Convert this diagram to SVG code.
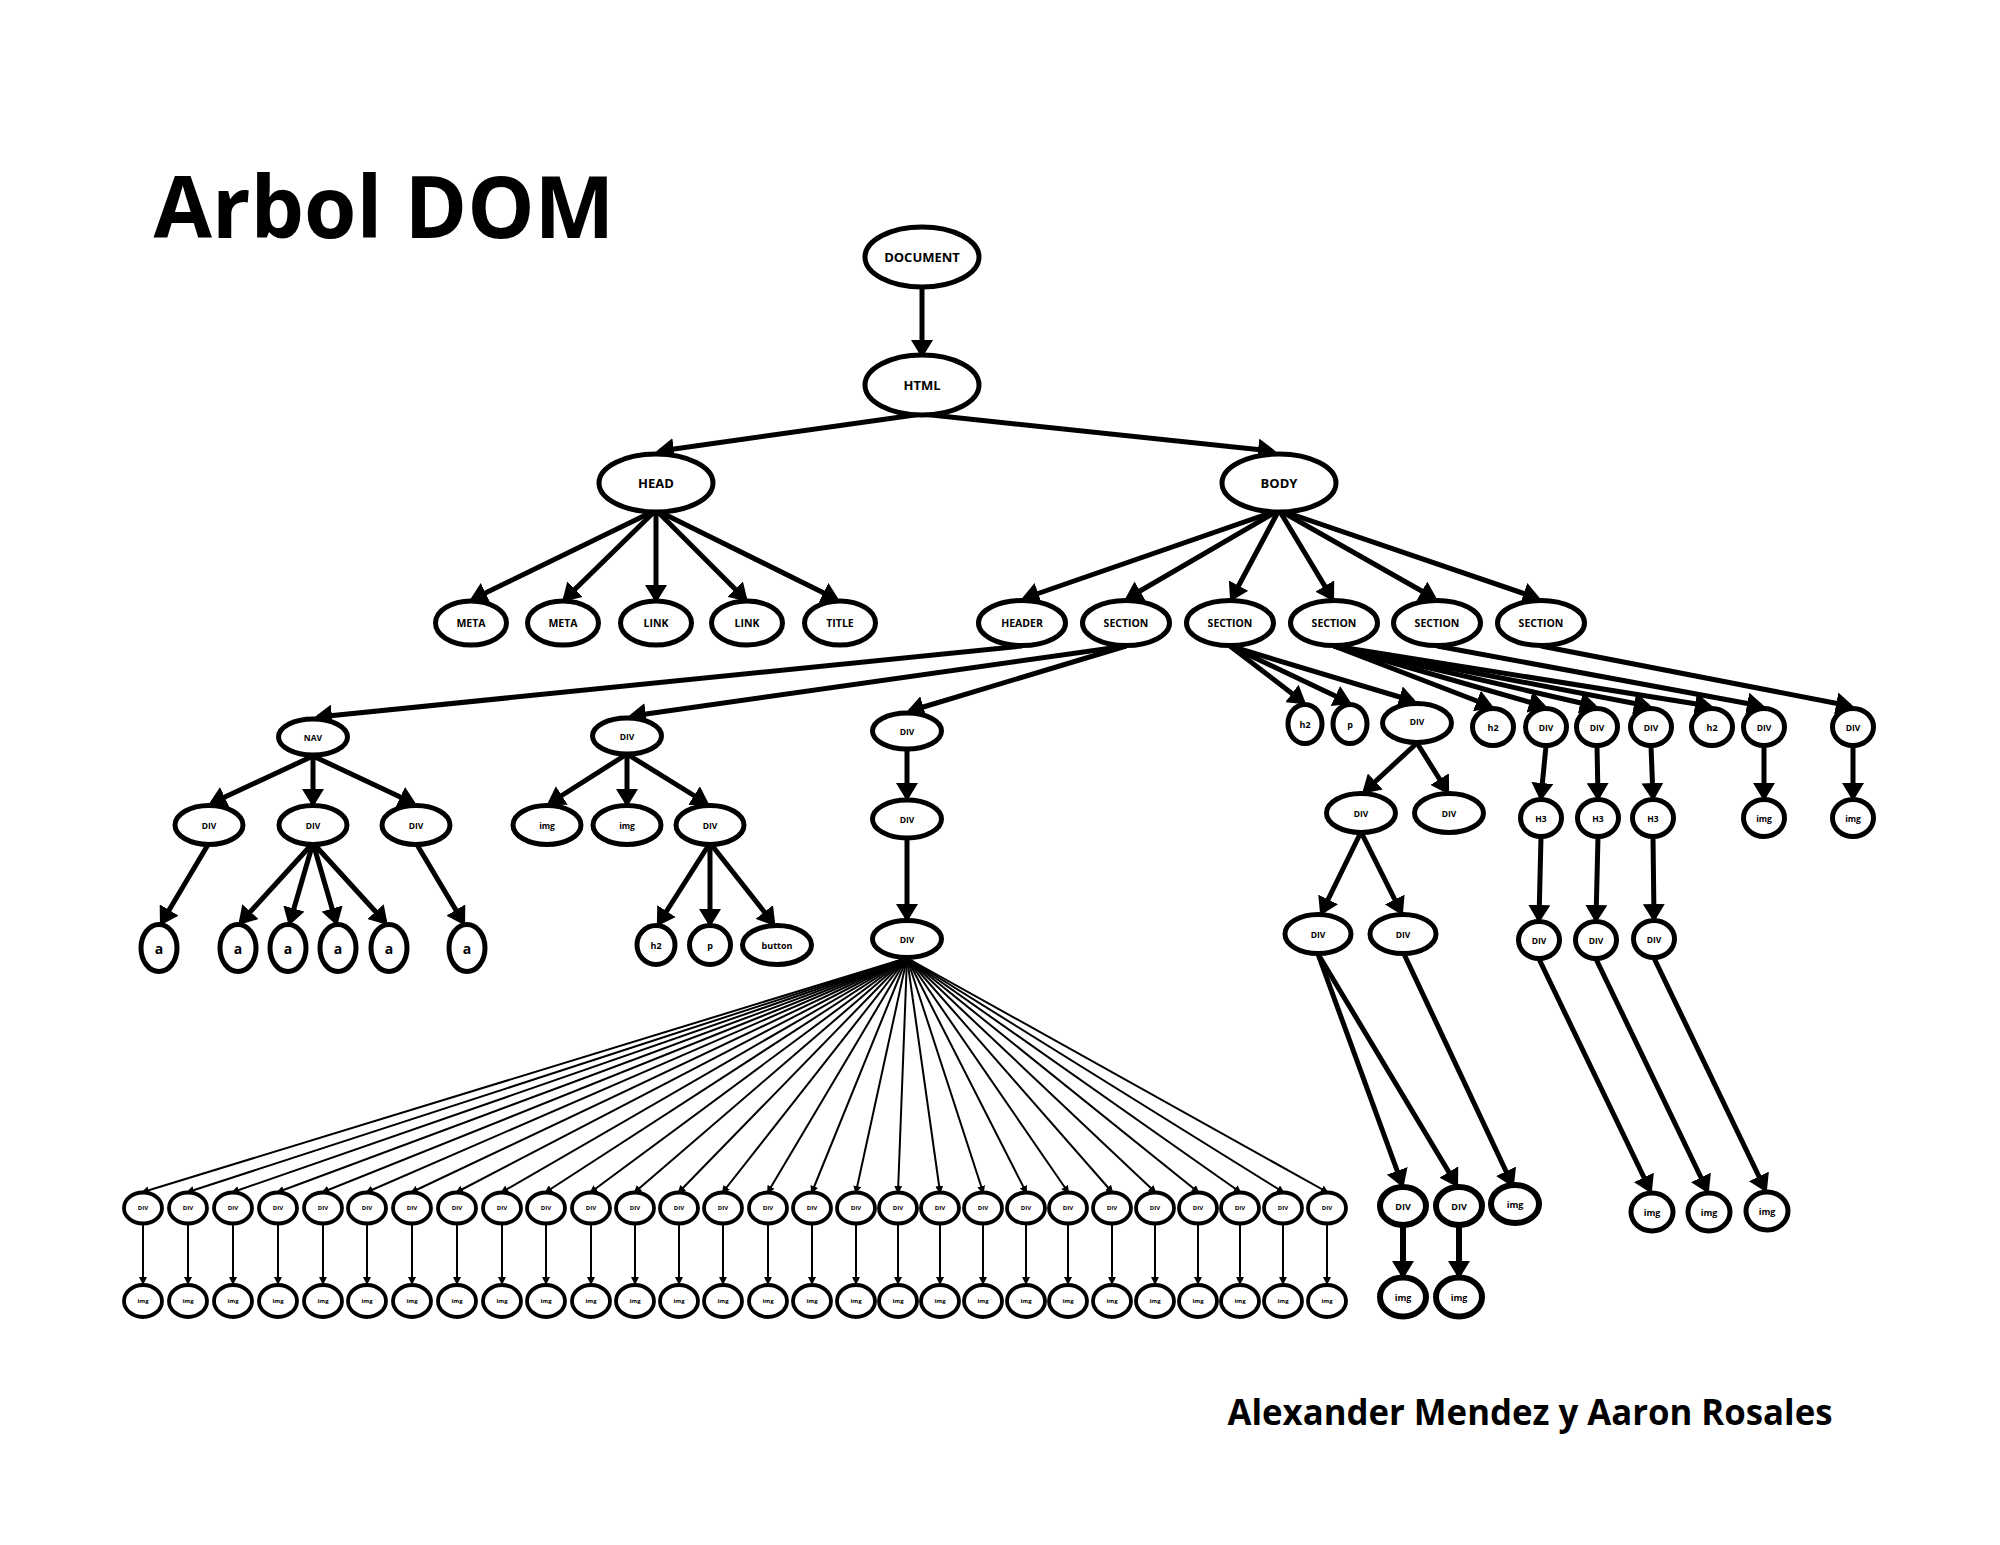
<svg xmlns="http://www.w3.org/2000/svg" width="2000" height="1545" viewBox="0 0 2000 1545">
<defs>
<style>
.n ellipse{fill:#fff;stroke:#000;stroke-width:5}
.s ellipse{fill:#fff;stroke:#000;stroke-width:3.8}
.w ellipse{fill:#fff;stroke:#000;stroke-width:6}
text{font-family:"Open Sans","DejaVu Sans",sans-serif;font-weight:700;text-anchor:middle;dominant-baseline:central;fill:#000}
.t13{font-size:13px}.t10{font-size:10.5px}.t9{font-size:9px}.t8{font-size:8.5px}.t6{font-size:6px}.ta{font-size:14px}
#connectors path{fill:none;stroke:#000}
.e{stroke-width:5;marker-end:url(#ah)}
.ew{stroke-width:6;marker-end:url(#ah)}
.f{stroke-width:2;marker-end:url(#as)}
</style>
<marker id="ah" markerUnits="userSpaceOnUse" markerWidth="18" markerHeight="22" viewBox="0 0 18 22" refX="14" refY="11" orient="auto"><path d="M0,0L18,11L0,22z" fill="#000"/></marker>
<marker id="as" markerUnits="userSpaceOnUse" markerWidth="8" markerHeight="8" viewBox="0 0 8 8" refX="6" refY="4" orient="auto"><path d="M0,0L8,4L0,8z" fill="#000"/></marker>
</defs>
<rect width="2000" height="1545" fill="#fff"/>
<text x="384" y="238" style="font-size:86px;dominant-baseline:alphabetic" textLength="461" lengthAdjust="spacingAndGlyphs">Arbol DOM</text>
<text x="1530" y="1425" style="font-size:36px;dominant-baseline:alphabetic" textLength="605" lengthAdjust="spacingAndGlyphs">Alexander Mendez y Aaron Rosales</text>
<g id="connectors">
<path class="e" d="M922 286V354"/>
<path class="e" d="M922 414L660 451"/>
<path class="e" d="M922 414L1272 451"/>
<path class="e" d="M656 510L473 599"/>
<path class="e" d="M656 510L565 599"/>
<path class="e" d="M656 510L656 599"/>
<path class="e" d="M656 510L745 599"/>
<path class="e" d="M656 510L836 599"/>
<path class="e" d="M1279 510L1025 598"/>
<path class="e" d="M1279 510L1128 598"/>
<path class="e" d="M1279 510L1232 598"/>
<path class="e" d="M1279 510L1332 598"/>
<path class="e" d="M1279 510L1434 598"/>
<path class="e" d="M1279 510L1537 598"/>
<path class="e" d="M1022 646L318 717"/>
<path class="e" d="M1126 646L632 716"/>
<path class="e" d="M1126 646L910 711"/>
<path class="e" d="M313 756L212 803"/>
<path class="e" d="M313 756L313 803"/>
<path class="e" d="M313 756L413 803"/>
<path class="e" d="M209 843L162 922"/>
<path class="e" d="M313 843L241 922"/>
<path class="e" d="M313 843L290 922"/>
<path class="e" d="M313 843L336 922"/>
<path class="e" d="M313 843L385 922"/>
<path class="e" d="M416 843L463 922"/>
<path class="e" d="M627 754L550 803"/>
<path class="e" d="M627 754L627 803"/>
<path class="e" d="M627 754L706 803"/>
<path class="e" d="M710 843L659 923"/>
<path class="e" d="M710 843L710 923"/>
<path class="e" d="M710 843L773 923"/>
<path class="e" d="M907 750V797"/>
<path class="e" d="M907 838V918"/>
<path class="e" d="M1230 646L1303 702"/>
<path class="e" d="M1230 646L1348 702"/>
<path class="e" d="M1230 646L1413 701"/>
<path class="e" d="M1334 646L1490 706"/>
<path class="e" d="M1334 646L1543 706"/>
<path class="e" d="M1334 646L1594 706"/>
<path class="e" d="M1334 646L1648 706"/>
<path class="e" d="M1334 646L1709 706"/>
<path class="e" d="M1437 646L1761 706"/>
<path class="e" d="M1541 646L1850 706"/>
<path class="e" d="M1417 743L1365 791"/>
<path class="e" d="M1417 743L1447 791"/>
<path class="e" d="M1546 746L1541 797"/>
<path class="e" d="M1597 746L1598 797"/>
<path class="e" d="M1651 746L1653 797"/>
<path class="e" d="M1764 746V797"/>
<path class="e" d="M1853 746V797"/>
<path class="e" d="M1361 832L1322 912"/>
<path class="e" d="M1361 832L1401 912"/>
<path class="e" d="M1541 837L1539 919"/>
<path class="e" d="M1598 837L1596 919"/>
<path class="e" d="M1653 837L1654 918"/>
<path class="e" d="M1318 954L1402 1184"/>
<path class="e" d="M1318 954L1456 1184"/>
<path class="e" d="M1404 954L1512 1184"/>
<path class="e" d="M1539 959L1650 1190"/>
<path class="e" d="M1596 959L1707 1190"/>
<path class="e" d="M1654 958L1765 1189"/>
<path class="ew" d="M1403 1225V1275"/>
<path class="ew" d="M1459 1225V1275"/>
<path class="f" d="M907 958L143 1192"/>
<path class="f" d="M907 958L188 1192"/>
<path class="f" d="M907 958L233 1192"/>
<path class="f" d="M907 958L278 1192"/>
<path class="f" d="M907 958L323 1192"/>
<path class="f" d="M907 958L367 1192"/>
<path class="f" d="M907 958L412 1192"/>
<path class="f" d="M907 958L457 1192"/>
<path class="f" d="M907 958L502 1192"/>
<path class="f" d="M907 958L546 1192"/>
<path class="f" d="M907 958L591 1192"/>
<path class="f" d="M907 958L635 1192"/>
<path class="f" d="M907 958L679 1192"/>
<path class="f" d="M907 958L723 1192"/>
<path class="f" d="M907 958L768 1192"/>
<path class="f" d="M907 958L812 1192"/>
<path class="f" d="M907 958L856 1192"/>
<path class="f" d="M907 958L898 1192"/>
<path class="f" d="M907 958L940 1192"/>
<path class="f" d="M907 958L983 1192"/>
<path class="f" d="M907 958L1026 1192"/>
<path class="f" d="M907 958L1068 1192"/>
<path class="f" d="M907 958L1112 1192"/>
<path class="f" d="M907 958L1155 1192"/>
<path class="f" d="M907 958L1198 1192"/>
<path class="f" d="M907 958L1240 1192"/>
<path class="f" d="M907 958L1283 1192"/>
<path class="f" d="M907 958L1327 1192"/>
<path class="f" d="M143 1225V1283"/>
<path class="f" d="M188 1225V1283"/>
<path class="f" d="M233 1225V1283"/>
<path class="f" d="M278 1225V1283"/>
<path class="f" d="M323 1225V1283"/>
<path class="f" d="M367 1225V1283"/>
<path class="f" d="M412 1225V1283"/>
<path class="f" d="M457 1225V1283"/>
<path class="f" d="M502 1225V1283"/>
<path class="f" d="M546 1225V1283"/>
<path class="f" d="M591 1225V1283"/>
<path class="f" d="M635 1225V1283"/>
<path class="f" d="M679 1225V1283"/>
<path class="f" d="M723 1225V1283"/>
<path class="f" d="M768 1225V1283"/>
<path class="f" d="M812 1225V1283"/>
<path class="f" d="M856 1225V1283"/>
<path class="f" d="M898 1225V1283"/>
<path class="f" d="M940 1225V1283"/>
<path class="f" d="M983 1225V1283"/>
<path class="f" d="M1026 1225V1283"/>
<path class="f" d="M1068 1225V1283"/>
<path class="f" d="M1112 1225V1283"/>
<path class="f" d="M1155 1225V1283"/>
<path class="f" d="M1198 1225V1283"/>
<path class="f" d="M1240 1225V1283"/>
<path class="f" d="M1283 1225V1283"/>
<path class="f" d="M1327 1225V1283"/>
</g>
<g id="n-document" class="n"><ellipse cx="922" cy="257" rx="57" ry="30"/><text class="t13" x="922" y="257">DOCUMENT</text></g>
<g id="n-html" class="n"><ellipse cx="922" cy="385" rx="57" ry="30"/><text class="t13" x="922" y="385">HTML</text></g>
<g id="n-head" class="n"><ellipse cx="656" cy="483" rx="57" ry="29"/><text class="t13" x="656" y="483">HEAD</text></g>
<g id="n-body" class="n"><ellipse cx="1279" cy="483" rx="57" ry="29"/><text class="t13" x="1279" y="483">BODY</text></g>
<g id="n-meta1" class="n"><ellipse cx="471" cy="623" rx="35.5" ry="22"/><text class="t10" x="471" y="623">META</text></g>
<g id="n-meta2" class="n"><ellipse cx="563" cy="623" rx="35.5" ry="22"/><text class="t10" x="563" y="623">META</text></g>
<g id="n-link1" class="n"><ellipse cx="656" cy="623" rx="35.5" ry="22"/><text class="t10" x="656" y="623">LINK</text></g>
<g id="n-link2" class="n"><ellipse cx="747" cy="623" rx="35.5" ry="22"/><text class="t10" x="747" y="623">LINK</text></g>
<g id="n-title" class="n"><ellipse cx="840" cy="623" rx="35.5" ry="22"/><text class="t10" x="840" y="623">TITLE</text></g>
<g id="n-header" class="n"><ellipse cx="1022" cy="623" rx="43.5" ry="22.5"/><text class="t10" x="1022" y="623">HEADER</text></g>
<g id="n-section1" class="n"><ellipse cx="1126" cy="623" rx="43.5" ry="22.5"/><text class="t10" x="1126" y="623">SECTION</text></g>
<g id="n-section2" class="n"><ellipse cx="1230" cy="623" rx="43.5" ry="22.5"/><text class="t10" x="1230" y="623">SECTION</text></g>
<g id="n-section3" class="n"><ellipse cx="1334" cy="623" rx="43.5" ry="22.5"/><text class="t10" x="1334" y="623">SECTION</text></g>
<g id="n-section4" class="n"><ellipse cx="1437" cy="623" rx="43.5" ry="22.5"/><text class="t10" x="1437" y="623">SECTION</text></g>
<g id="n-section5" class="n"><ellipse cx="1541" cy="623" rx="43.5" ry="22.5"/><text class="t10" x="1541" y="623">SECTION</text></g>
<g id="n-nav" class="n"><ellipse cx="313" cy="737" rx="34.5" ry="18"/><text class="t8" x="313" y="737">NAV</text></g>
<g id="n-divA" class="n"><ellipse cx="627" cy="736" rx="34.5" ry="18"/><text class="t8" x="627" y="736">DIV</text></g>
<g id="n-divB" class="n"><ellipse cx="907" cy="731" rx="34.5" ry="18"/><text class="t8" x="907" y="731">DIV</text></g>
<g id="n-navdiv1" class="n"><ellipse cx="209" cy="825" rx="34" ry="19.5"/><text class="t8" x="209" y="825">DIV</text></g>
<g id="n-navdiv2" class="n"><ellipse cx="313" cy="825" rx="34" ry="19.5"/><text class="t8" x="313" y="825">DIV</text></g>
<g id="n-navdiv3" class="n"><ellipse cx="416" cy="825" rx="34" ry="19.5"/><text class="t8" x="416" y="825">DIV</text></g>
<g id="n-imgA1" class="n"><ellipse cx="547" cy="825" rx="34" ry="19.5"/><text class="t8" x="547" y="825">img</text></g>
<g id="n-imgA2" class="n"><ellipse cx="627" cy="825" rx="34" ry="19.5"/><text class="t8" x="627" y="825">img</text></g>
<g id="n-divA3" class="n"><ellipse cx="710" cy="825" rx="34" ry="19.5"/><text class="t8" x="710" y="825">DIV</text></g>
<g id="n-divB2" class="n"><ellipse cx="907" cy="819" rx="34.5" ry="19"/><text class="t8" x="907" y="819">DIV</text></g>
<g id="n-a1" class="n"><ellipse cx="159" cy="948" rx="18" ry="23.5"/><text class="ta" x="159" y="948">a</text></g>
<g id="n-a2" class="n"><ellipse cx="238" cy="948" rx="18" ry="23.5"/><text class="ta" x="238" y="948">a</text></g>
<g id="n-a3" class="n"><ellipse cx="288" cy="948" rx="18" ry="23.5"/><text class="ta" x="288" y="948">a</text></g>
<g id="n-a4" class="n"><ellipse cx="338" cy="948" rx="18" ry="23.5"/><text class="ta" x="338" y="948">a</text></g>
<g id="n-a5" class="n"><ellipse cx="389" cy="948" rx="18" ry="23.5"/><text class="ta" x="389" y="948">a</text></g>
<g id="n-a6" class="n"><ellipse cx="467" cy="948" rx="18" ry="23.5"/><text class="ta" x="467" y="948">a</text></g>
<g id="n-h2A" class="n"><ellipse cx="656" cy="945" rx="19" ry="19.5"/><text class="t9" x="656" y="945">h2</text></g>
<g id="n-pA" class="n"><ellipse cx="710" cy="945" rx="20.5" ry="19.5"/><text class="t9" x="710" y="945">p</text></g>
<g id="n-button" class="n"><ellipse cx="777" cy="945" rx="34.5" ry="19.5"/><text class="t9" x="777" y="945">button</text></g>
<g id="n-divB3" class="n"><ellipse cx="907" cy="939" rx="34.5" ry="18.5"/><text class="t8" x="907" y="939">DIV</text></g>
<g id="n-h2a" class="n"><ellipse cx="1305" cy="724" rx="17" ry="19.5"/><text class="t9" x="1305" y="724">h2</text></g>
<g id="n-pa" class="n"><ellipse cx="1350" cy="724" rx="17" ry="19.5"/><text class="t9" x="1350" y="724">p</text></g>
<g id="n-divC" class="n"><ellipse cx="1417" cy="723" rx="34.5" ry="19.5"/><text class="t8" x="1417" y="721">DIV</text></g>
<g id="n-h2b" class="n"><ellipse cx="1493" cy="727" rx="20.5" ry="18.5"/><text class="t9" x="1493" y="727">h2</text></g>
<g id="n-divD1" class="n"><ellipse cx="1546" cy="727" rx="20.5" ry="18.5"/><text class="t8" x="1546" y="727">DIV</text></g>
<g id="n-divD2" class="n"><ellipse cx="1597" cy="727" rx="20.5" ry="18.5"/><text class="t8" x="1597" y="727">DIV</text></g>
<g id="n-divD3" class="n"><ellipse cx="1651" cy="727" rx="20.5" ry="18.5"/><text class="t8" x="1651" y="727">DIV</text></g>
<g id="n-h2c" class="n"><ellipse cx="1712" cy="727" rx="20.5" ry="18.5"/><text class="t9" x="1712" y="727">h2</text></g>
<g id="n-divE" class="n"><ellipse cx="1764" cy="727" rx="20.5" ry="18.5"/><text class="t8" x="1764" y="727">DIV</text></g>
<g id="n-divF" class="n"><ellipse cx="1853" cy="727" rx="20.5" ry="18.5"/><text class="t8" x="1853" y="727">DIV</text></g>
<g id="n-divC1" class="n"><ellipse cx="1361" cy="813" rx="34.5" ry="19.5"/><text class="t8" x="1361" y="813">DIV</text></g>
<g id="n-divC2" class="n"><ellipse cx="1449" cy="813" rx="34.5" ry="19.5"/><text class="t8" x="1449" y="813">DIV</text></g>
<g id="n-h3a" class="n"><ellipse cx="1541" cy="818" rx="20.5" ry="18.5"/><text class="t8" x="1541" y="818">H3</text></g>
<g id="n-h3b" class="n"><ellipse cx="1598" cy="818" rx="20.5" ry="18.5"/><text class="t8" x="1598" y="818">H3</text></g>
<g id="n-h3c" class="n"><ellipse cx="1653" cy="818" rx="20.5" ry="18.5"/><text class="t8" x="1653" y="818">H3</text></g>
<g id="n-imgE" class="n"><ellipse cx="1764" cy="818" rx="20.5" ry="18.5"/><text class="t8" x="1764" y="818">img</text></g>
<g id="n-imgF" class="n"><ellipse cx="1853" cy="818" rx="20.5" ry="18.5"/><text class="t8" x="1853" y="818">img</text></g>
<g id="n-divC11" class="n"><ellipse cx="1318" cy="934" rx="33" ry="19.5"/><text class="t8" x="1318" y="934">DIV</text></g>
<g id="n-divC12" class="n"><ellipse cx="1403" cy="934" rx="33" ry="19.5"/><text class="t8" x="1403" y="934">DIV</text></g>
<g id="n-divH1" class="n"><ellipse cx="1539" cy="940" rx="20.5" ry="18.5"/><text class="t8" x="1539" y="940">DIV</text></g>
<g id="n-divH2" class="n"><ellipse cx="1596" cy="940" rx="20.5" ry="18.5"/><text class="t8" x="1596" y="940">DIV</text></g>
<g id="n-divH3" class="n"><ellipse cx="1654" cy="939" rx="20.5" ry="18.5"/><text class="t8" x="1654" y="939">DIV</text></g>
<g id="n-dd1" class="w"><ellipse cx="1403" cy="1206" rx="23" ry="19"/><text class="t9" x="1403" y="1206">DIV</text></g>
<g id="n-dd2" class="w"><ellipse cx="1459" cy="1206" rx="23" ry="19"/><text class="t9" x="1459" y="1206">DIV</text></g>
<g id="n-imgG" class="w"><ellipse cx="1515" cy="1204" rx="24" ry="19"/><text class="t9" x="1515" y="1204">img</text></g>
<g id="n-ddimg1" class="w"><ellipse cx="1403" cy="1297" rx="23" ry="19.5"/><text class="t9" x="1403" y="1297">img</text></g>
<g id="n-ddimg2" class="w"><ellipse cx="1459" cy="1297" rx="23" ry="19.5"/><text class="t9" x="1459" y="1297">img</text></g>
<g id="n-imgH1" class="n"><ellipse cx="1652" cy="1212" rx="21" ry="19"/><text class="t9" x="1652" y="1212">img</text></g>
<g id="n-imgH2" class="n"><ellipse cx="1709" cy="1212" rx="21" ry="19"/><text class="t9" x="1709" y="1212">img</text></g>
<g id="n-imgH3" class="n"><ellipse cx="1767" cy="1211" rx="21" ry="19"/><text class="t9" x="1767" y="1211">img</text></g>
<g id="row-div-1" class="s"><ellipse cx="143" cy="1208" rx="19" ry="15.5"/><text class="t6" x="143" y="1208">DIV</text></g>
<g id="row-div-2" class="s"><ellipse cx="188" cy="1208" rx="19" ry="15.5"/><text class="t6" x="188" y="1208">DIV</text></g>
<g id="row-div-3" class="s"><ellipse cx="233" cy="1208" rx="19" ry="15.5"/><text class="t6" x="233" y="1208">DIV</text></g>
<g id="row-div-4" class="s"><ellipse cx="278" cy="1208" rx="19" ry="15.5"/><text class="t6" x="278" y="1208">DIV</text></g>
<g id="row-div-5" class="s"><ellipse cx="323" cy="1208" rx="19" ry="15.5"/><text class="t6" x="323" y="1208">DIV</text></g>
<g id="row-div-6" class="s"><ellipse cx="367" cy="1208" rx="19" ry="15.5"/><text class="t6" x="367" y="1208">DIV</text></g>
<g id="row-div-7" class="s"><ellipse cx="412" cy="1208" rx="19" ry="15.5"/><text class="t6" x="412" y="1208">DIV</text></g>
<g id="row-div-8" class="s"><ellipse cx="457" cy="1208" rx="19" ry="15.5"/><text class="t6" x="457" y="1208">DIV</text></g>
<g id="row-div-9" class="s"><ellipse cx="502" cy="1208" rx="19" ry="15.5"/><text class="t6" x="502" y="1208">DIV</text></g>
<g id="row-div-10" class="s"><ellipse cx="546" cy="1208" rx="19" ry="15.5"/><text class="t6" x="546" y="1208">DIV</text></g>
<g id="row-div-11" class="s"><ellipse cx="591" cy="1208" rx="19" ry="15.5"/><text class="t6" x="591" y="1208">DIV</text></g>
<g id="row-div-12" class="s"><ellipse cx="635" cy="1208" rx="19" ry="15.5"/><text class="t6" x="635" y="1208">DIV</text></g>
<g id="row-div-13" class="s"><ellipse cx="679" cy="1208" rx="19" ry="15.5"/><text class="t6" x="679" y="1208">DIV</text></g>
<g id="row-div-14" class="s"><ellipse cx="723" cy="1208" rx="19" ry="15.5"/><text class="t6" x="723" y="1208">DIV</text></g>
<g id="row-div-15" class="s"><ellipse cx="768" cy="1208" rx="19" ry="15.5"/><text class="t6" x="768" y="1208">DIV</text></g>
<g id="row-div-16" class="s"><ellipse cx="812" cy="1208" rx="19" ry="15.5"/><text class="t6" x="812" y="1208">DIV</text></g>
<g id="row-div-17" class="s"><ellipse cx="856" cy="1208" rx="19" ry="15.5"/><text class="t6" x="856" y="1208">DIV</text></g>
<g id="row-div-18" class="s"><ellipse cx="898" cy="1208" rx="19" ry="15.5"/><text class="t6" x="898" y="1208">DIV</text></g>
<g id="row-div-19" class="s"><ellipse cx="940" cy="1208" rx="19" ry="15.5"/><text class="t6" x="940" y="1208">DIV</text></g>
<g id="row-div-20" class="s"><ellipse cx="983" cy="1208" rx="19" ry="15.5"/><text class="t6" x="983" y="1208">DIV</text></g>
<g id="row-div-21" class="s"><ellipse cx="1026" cy="1208" rx="19" ry="15.5"/><text class="t6" x="1026" y="1208">DIV</text></g>
<g id="row-div-22" class="s"><ellipse cx="1068" cy="1208" rx="19" ry="15.5"/><text class="t6" x="1068" y="1208">DIV</text></g>
<g id="row-div-23" class="s"><ellipse cx="1112" cy="1208" rx="19" ry="15.5"/><text class="t6" x="1112" y="1208">DIV</text></g>
<g id="row-div-24" class="s"><ellipse cx="1155" cy="1208" rx="19" ry="15.5"/><text class="t6" x="1155" y="1208">DIV</text></g>
<g id="row-div-25" class="s"><ellipse cx="1198" cy="1208" rx="19" ry="15.5"/><text class="t6" x="1198" y="1208">DIV</text></g>
<g id="row-div-26" class="s"><ellipse cx="1240" cy="1208" rx="19" ry="15.5"/><text class="t6" x="1240" y="1208">DIV</text></g>
<g id="row-div-27" class="s"><ellipse cx="1283" cy="1208" rx="19" ry="15.5"/><text class="t6" x="1283" y="1208">DIV</text></g>
<g id="row-div-28" class="s"><ellipse cx="1327" cy="1208" rx="19" ry="15.5"/><text class="t6" x="1327" y="1208">DIV</text></g>
<g id="row-img-1" class="s"><ellipse cx="143" cy="1301" rx="19" ry="16"/><text class="t6" x="143" y="1301">img</text></g>
<g id="row-img-2" class="s"><ellipse cx="188" cy="1301" rx="19" ry="16"/><text class="t6" x="188" y="1301">img</text></g>
<g id="row-img-3" class="s"><ellipse cx="233" cy="1301" rx="19" ry="16"/><text class="t6" x="233" y="1301">img</text></g>
<g id="row-img-4" class="s"><ellipse cx="278" cy="1301" rx="19" ry="16"/><text class="t6" x="278" y="1301">img</text></g>
<g id="row-img-5" class="s"><ellipse cx="323" cy="1301" rx="19" ry="16"/><text class="t6" x="323" y="1301">img</text></g>
<g id="row-img-6" class="s"><ellipse cx="367" cy="1301" rx="19" ry="16"/><text class="t6" x="367" y="1301">img</text></g>
<g id="row-img-7" class="s"><ellipse cx="412" cy="1301" rx="19" ry="16"/><text class="t6" x="412" y="1301">img</text></g>
<g id="row-img-8" class="s"><ellipse cx="457" cy="1301" rx="19" ry="16"/><text class="t6" x="457" y="1301">img</text></g>
<g id="row-img-9" class="s"><ellipse cx="502" cy="1301" rx="19" ry="16"/><text class="t6" x="502" y="1301">img</text></g>
<g id="row-img-10" class="s"><ellipse cx="546" cy="1301" rx="19" ry="16"/><text class="t6" x="546" y="1301">img</text></g>
<g id="row-img-11" class="s"><ellipse cx="591" cy="1301" rx="19" ry="16"/><text class="t6" x="591" y="1301">img</text></g>
<g id="row-img-12" class="s"><ellipse cx="635" cy="1301" rx="19" ry="16"/><text class="t6" x="635" y="1301">img</text></g>
<g id="row-img-13" class="s"><ellipse cx="679" cy="1301" rx="19" ry="16"/><text class="t6" x="679" y="1301">img</text></g>
<g id="row-img-14" class="s"><ellipse cx="723" cy="1301" rx="19" ry="16"/><text class="t6" x="723" y="1301">img</text></g>
<g id="row-img-15" class="s"><ellipse cx="768" cy="1301" rx="19" ry="16"/><text class="t6" x="768" y="1301">img</text></g>
<g id="row-img-16" class="s"><ellipse cx="812" cy="1301" rx="19" ry="16"/><text class="t6" x="812" y="1301">img</text></g>
<g id="row-img-17" class="s"><ellipse cx="856" cy="1301" rx="19" ry="16"/><text class="t6" x="856" y="1301">img</text></g>
<g id="row-img-18" class="s"><ellipse cx="898" cy="1301" rx="19" ry="16"/><text class="t6" x="898" y="1301">img</text></g>
<g id="row-img-19" class="s"><ellipse cx="940" cy="1301" rx="19" ry="16"/><text class="t6" x="940" y="1301">img</text></g>
<g id="row-img-20" class="s"><ellipse cx="983" cy="1301" rx="19" ry="16"/><text class="t6" x="983" y="1301">img</text></g>
<g id="row-img-21" class="s"><ellipse cx="1026" cy="1301" rx="19" ry="16"/><text class="t6" x="1026" y="1301">img</text></g>
<g id="row-img-22" class="s"><ellipse cx="1068" cy="1301" rx="19" ry="16"/><text class="t6" x="1068" y="1301">img</text></g>
<g id="row-img-23" class="s"><ellipse cx="1112" cy="1301" rx="19" ry="16"/><text class="t6" x="1112" y="1301">img</text></g>
<g id="row-img-24" class="s"><ellipse cx="1155" cy="1301" rx="19" ry="16"/><text class="t6" x="1155" y="1301">img</text></g>
<g id="row-img-25" class="s"><ellipse cx="1198" cy="1301" rx="19" ry="16"/><text class="t6" x="1198" y="1301">img</text></g>
<g id="row-img-26" class="s"><ellipse cx="1240" cy="1301" rx="19" ry="16"/><text class="t6" x="1240" y="1301">img</text></g>
<g id="row-img-27" class="s"><ellipse cx="1283" cy="1301" rx="19" ry="16"/><text class="t6" x="1283" y="1301">img</text></g>
<g id="row-img-28" class="s"><ellipse cx="1327" cy="1301" rx="19" ry="16"/><text class="t6" x="1327" y="1301">img</text></g>
</svg>
